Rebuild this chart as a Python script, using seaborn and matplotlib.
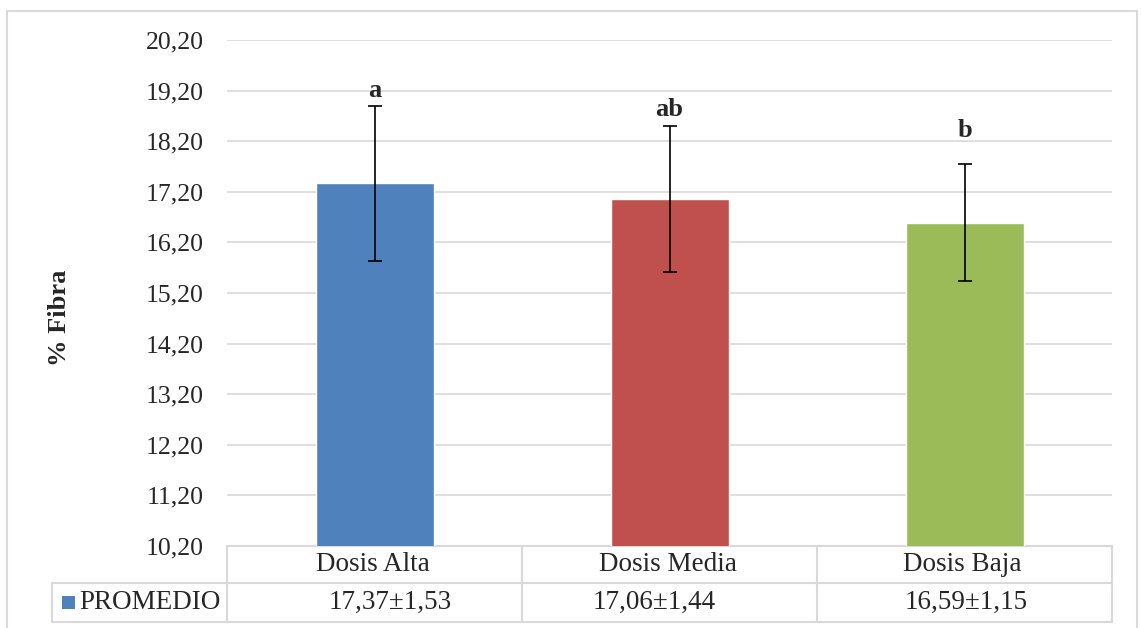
import numpy as np
import pandas as pd
import matplotlib.pyplot as plt
import seaborn as sns
from matplotlib.lines import Line2D
from matplotlib.patches import Rectangle

categorias = ["Dosis Alta", "Dosis Media", "Dosis Baja"]
promedio = [17.37, 17.06, 16.59]
desviacion = [1.53, 1.44, 1.15]
letras = ["a", "ab", "b"]
letras_y = [19.21, 18.82, 18.42]
colores = ["#4F81BD", "#C0504D", "#9BBB59"]
yticks = np.arange(10.2, 20.21, 1.0)

df = pd.DataFrame({"dosis": categorias, "fibra": promedio})

sns.set_style("white")
plt.rcParams['font.family'] = ['Liberation Serif', 'DejaVu Serif']

W, H = 1141, 628
fig = plt.figure(figsize=(W / 100, H / 100), dpi=100)

def fx(px):
    return px / W

def fy(py):
    return 1 - py / H

# area del grafico
x0, x1, ytop, ybot = 227, 1112, 40, 546
ax = fig.add_axes([fx(x0), fy(ybot), fx(x1) - fx(x0), fy(ytop) - fy(ybot)])

sns.barplot(data=df, x="dosis", y="fibra", hue="dosis", palette=colores,
            width=0.4, dodge=False, legend=False, saturation=1, ax=ax, zorder=3)
ax.errorbar(range(len(categorias)), promedio, yerr=desviacion, fmt="none",
            ecolor="black", elinewidth=1.2, capsize=5, capthick=1.2, zorder=4)

for i, (l, ly) in enumerate(zip(letras, letras_y)):
    ax.text(i, ly, l, ha="center", va="center", fontsize=19, fontweight="bold")

ax.set_ylim(10.2, 20.2)
ax.set_xlim(-0.5, 2.5)
ax.set_yticks(yticks)
ax.set_yticklabels([f"{v:.2f}".replace(".", ",") for v in yticks], fontsize=18.5)
ax.set_xticks([])
ax.set_xlabel("")
ax.set_ylabel("")
ax.tick_params(axis="y", length=0, pad=17)
ax.yaxis.grid(True, color="#D9D9D9", linewidth=1.2, zorder=0)
ax.set_axisbelow(True)
for s in ["top", "right", "left"]:
    ax.spines[s].set_visible(False)
ax.spines["bottom"].set_color("#D9D9D9")
ax.spines["bottom"].set_linewidth(1.5)

fig.text(fx(60), fy(318), "% Fibra", rotation=90, ha="center", va="center",
         fontsize=19, fontweight="bold")

# tabla de datos
gris = "#D9D9D9"
def hline(y, xa, xb):
    fig.add_artist(Line2D([fx(xa), fx(xb)], [fy(y), fy(y)], color=gris, lw=1.5))

def vline(x, ya, yb):
    fig.add_artist(Line2D([fx(x), fx(x)], [fy(ya), fy(yb)], color=gris, lw=1.5))

r1, r2, r3 = 546, 583, 622
col_w = (x1 - x0) / 3
hline(r2, 52, x1)
hline(r3, 52, x1)
vline(52, r2, r3)
for k in range(4):
    vline(x0 + k * col_w, r1, r3)

desplaz = [16, -15, 2]  # el texto de valores no queda centrado en la tabla
for i, (c, m, s) in enumerate(zip(categorias, promedio, desviacion)):
    cx = x0 + (i + 0.5) * col_w
    fig.text(fx(cx - 2), fy((r1 + r2) / 2), c, ha="center", va="center", fontsize=19.5)
    txt = f"{m:.2f}±{s:.2f}".replace(".", ",")
    fig.text(fx(cx + desplaz[i]), fy((r2 + r3) / 2), txt, ha="center", va="center",
             fontsize=19.5)

fig.add_artist(Rectangle((fx(62), fy(609)), fx(13), fy(596) - fy(609),
                         facecolor=colores[0], edgecolor="none"))
fig.text(fx(79), fy((r2 + r3) / 2), "PROMEDIO", ha="left", va="center", fontsize=19.5)

# borde exterior
fig.add_artist(Line2D([fx(7), fx(7)], [fy(11), 0], color=gris, lw=1.5))
fig.add_artist(Line2D([fx(7), fx(1137)], [fy(11), fy(11)], color=gris, lw=1.5))
fig.add_artist(Line2D([fx(1137), fx(1137)], [fy(11), 0], color=gris, lw=1.5))

fig.savefig("out.png", dpi=100)
